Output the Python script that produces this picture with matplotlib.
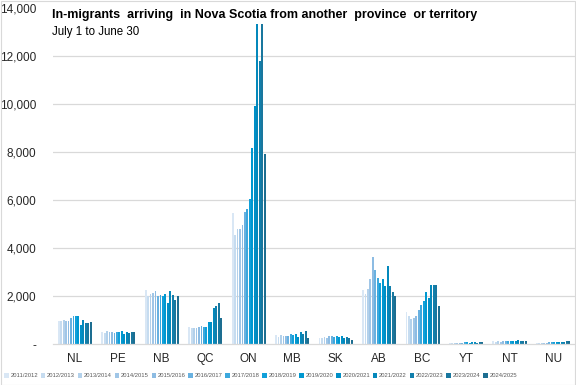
import numpy as np
import matplotlib
matplotlib.use("Agg")
import matplotlib.pyplot as plt
from matplotlib.patches import Rectangle

plt.rcParams['font.family'] = ['Liberation Sans', 'DejaVu Sans']

# categories and series
provinces = ['NL', 'PE', 'NB', 'QC', 'ON', 'MB', 'SK', 'AB', 'BC', 'YT', 'NT', 'NU']
years = ['2011/2012', '2012/2013', '2013/2014', '2014/2015', '2015/2016', '2016/2017',
         '2017/2018', '2018/2019', '2019/2020', '2020/2021', '2021/2022', '2022/2023',
         '2023/2024', '2024/2025']

# one row per province, one value per year
NL = [950, 950, 1000, 970, 970, 1100, 1170, 1170, 1170, 800, 1000, 890, 890, 920]
PE = [500, 470, 530, 520, 500, 460, 500, 500, 530, 420, 520, 450, 520, 500]
NB = [2250, 2000, 2100, 2150, 2200, 2000, 2050, 2000, 2100, 1700, 2200, 2050, 1850, 2000]
QC = [720, 695, 695, 695, 720, 750, 720, 720, 915, 945, 1500, 1585, 1695, 1085]
ON = [5470, 4540, 4780, 4780, 4960, 5500, 5620, 6040, 8180, 9920, 13330, 11790, 13330, 7920]
MB = [375, 290, 375, 350, 330, 330, 415, 390, 445, 290, 490, 415, 530, 250]
SK = [250, 250, 290, 250, 330, 330, 305, 330, 305, 350, 265, 290, 275, 165]
AB = [2250, 2085, 2280, 2695, 3640, 3110, 2750, 2530, 2695, 2420, 3250, 2420, 2165, 2000]
BC = [1335, 1165, 1055, 1085, 1195, 1415, 1640, 1805, 2165, 1915, 2470, 2470, 2470, 1610]
YT = [60, 50, 70, 60, 70, 70, 80, 90, 60, 80, 110, 70, 80, 90]
NT = [120, 110, 120, 110, 130, 140, 150, 130, 120, 150, 160, 130, 150, 120]
NU = [70, 60, 70, 60, 70, 80, 90, 80, 90, 110, 110, 100, 120, 130]

colors = ['#d9e7f5', '#c6dcf0', '#b3d1eb', '#a0c6e7', '#8dbce3', '#69b1e0',
          '#3ca8dd', '#10a0da', '#0098d0', '#008fc6', '#0488bb', '#117fac',
          '#19779e', '#1d6e91']

data = np.array([NL, PE, NB, QC, ON, MB, SK, AB, BC, YT, NT, NU])

fig = plt.figure(figsize=(5.76, 3.85), dpi=100)
ax = fig.add_axes([0.092, 0.106, 0.906, 0.873])

x = np.arange(len(provinces))
slot = 0.8 / len(years)
for j, yr in enumerate(years):
    ax.bar(x - 0.4 + slot * (j + 0.5), data[:, j], width=slot * 0.78,
           color=colors[j], label=yr, zorder=2)

ax.set_xlim(-0.5, len(provinces) - 0.5)
ax.set_ylim(0, 14000)
yt = np.arange(0, 14001, 2000)
ax.set_yticks(yt)
ax.set_yticklabels(['-' if v == 0 else f'{v:,}' for v in yt], fontsize=8.5, color='#262626')
ax.set_xticks(x)
ax.set_xticklabels(provinces, fontsize=8.5, color='#262626')
ax.tick_params(axis='both', length=0)
ax.tick_params(axis='y', pad=12)
ax.tick_params(axis='x', pad=6)

for v in yt[1:-1]:
    ax.axhline(v, color='#d9d9d9', lw=0.9, zorder=1)
for s in ['top', 'right', 'left']:
    ax.spines[s].set_visible(False)
ax.spines['bottom'].set_color('#d9d9d9')
ax.spines['bottom'].set_linewidth(0.9)

fig.text(0.09, 0.96, 'In-migrants  arriving  in Nova Scotia from another  province  or territory',
         fontsize=9.0, fontweight='bold', ha='left', va='center', color='#000000')
fig.text(0.09, 0.918, 'July 1 to June 30', fontsize=8.3, ha='left', va='center', color='#000000')

leg = fig.legend(loc='center left', bbox_to_anchor=(0.0, 0.024), ncol=14, frameon=False,
                 fontsize=4.2, handlelength=0.8, handleheight=0.8, handletextpad=0.3,
                 columnspacing=0.45, borderpad=0.2)
for t in leg.get_texts():
    t.set_color('#595959')

fig.patches.append(Rectangle((0.001, 0.001), 0.998, 0.997, transform=fig.transFigure,
                             fill=False, edgecolor='#d9d9d9', lw=0.8))

fig.savefig('out.png', dpi=100)
